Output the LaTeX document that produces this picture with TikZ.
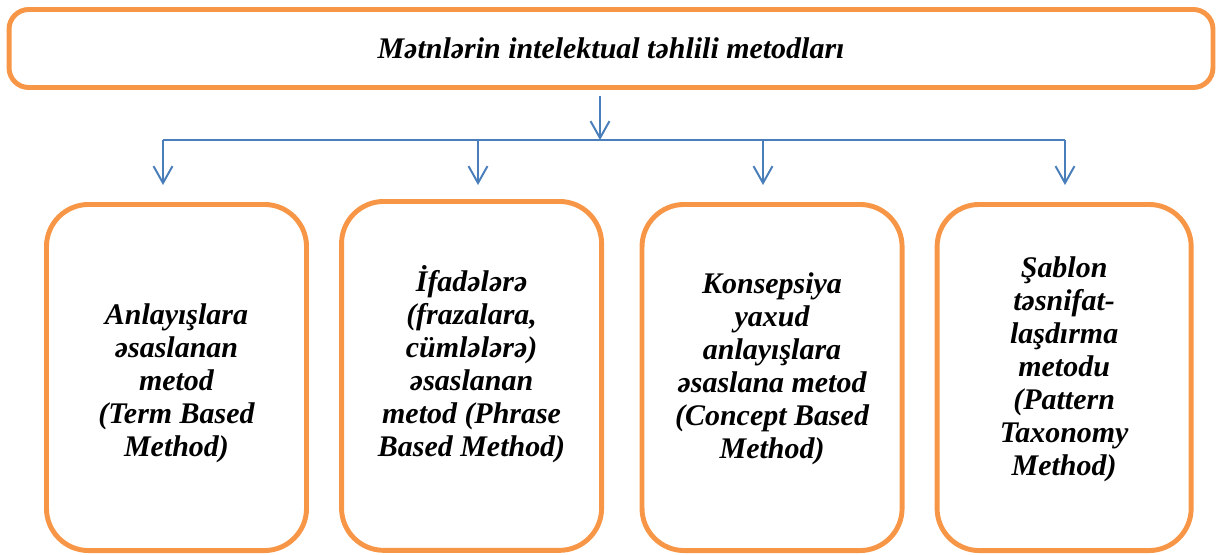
\documentclass[tikz,border=0pt]{standalone}
\usepackage{fontspec}
\setmainfont{Liberation Serif}
\usepackage{tikz}
\usetikzlibrary{shapes,arrows.meta,positioning}
\definecolor{boxorange}{HTML}{F79646}
\definecolor{lineblue}{HTML}{4A7EBB}
\tikzstyle{title} = [rectangle, draw=boxorange, line width=3.5pt,
	rounded corners=14pt, minimum width=30.09cm, minimum height=1.95cm,
	font=\bfseries\itshape\fontsize{21.3}{23.5}\selectfont]
\tikzstyle{method} = [rectangle, draw=boxorange, line width=3.5pt,
	rounded corners=30pt, minimum width=6.5cm, minimum height=8.65cm,
	node distance=7.375cm]
\tikzstyle{methodtext} = [align=center,
	font=\bfseries\itshape\fontsize{21.3}{23.5}\selectfont]
\tikzstyle{line} = [draw, lineblue, line width=1.4pt,
	-{Straight Barb[length=12pt,width=13.5pt]}]
\tikzstyle{bar} = [draw, lineblue, line width=1.4pt]

\begin{document}
\begin{tikzpicture}[x=0.025cm, y=-0.025cm]
	\useasboundingbox (0,0) rectangle (1220,554);

	% Place nodes
	\node [title] (title) at (611,48.5) {Mətnlərin intelektual təhlili metodları};
	\node [method] (term) at (176.5,377.5) {};
	\node [method, right of=term, minimum height=8.72cm, yshift=0.04cm] (phrase) {};
	\node [method, right of=phrase, node distance=7.51cm, yshift=-0.04cm] (concept) {};
	\node [method, right of=concept, node distance=7.3cm, minimum width=6.35cm] (pattern) {};
	\node [methodtext] (termtext) at ([yshift=-0.15cm]term.center) {Anlayışlara\\əsaslanan\\metod\\(Term Based\\Method)};
	\node [methodtext] (phrasetext) at ([yshift=0.3cm]phrase.center) {İfadələrə\\(frazalara,\\cümlələrə)\\əsaslanan\\metod (Phrase\\Based Method)};
	\node [methodtext] (concepttext) at ([yshift=0.22cm]concept.center) {Konsepsiya\\yaxud\\anlayışlara\\əsaslana metod\\(Concept Based\\Method)};
	\node [methodtext] (patterntext) at ([yshift=0.2cm]pattern.center) {Şablon\\təsnifat-\\laşdırma\\metodu\\(Pattern\\Taxonomy\\Method)};
	\coordinate (split) at (600,140);
	\coordinate (t1) at (163,185);
	\coordinate (t2) at (478,185);
	\coordinate (t3) at (763,185);
	\coordinate (t4) at (1065,185);

	% Draw edges
	\path [line, shorten <=4pt] (title.south -| split) -- (split);
	\path [bar] (t1 |- split) -- (t4 |- split);
	\path [line] (t1 |- split) -- (t1);
	\path [line] (t2 |- split) -- (t2);
	\path [line] (t3 |- split) -- (t3);
	\path [line] (t4 |- split) -- (t4);
\end{tikzpicture}
\end{document}
